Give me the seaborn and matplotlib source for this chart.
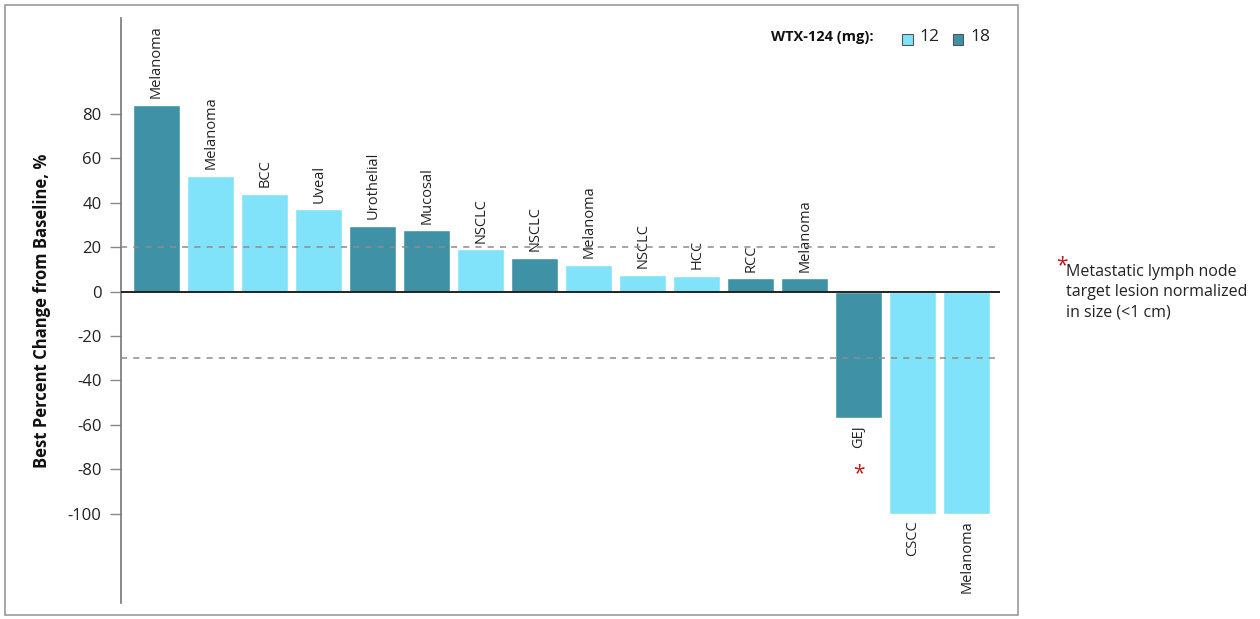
import matplotlib
matplotlib.use("Agg")
import matplotlib.pyplot as plt
from matplotlib.patches import Rectangle
import seaborn as sns
import pandas as pd

# Tumour type per patient, best percent change from baseline, WTX-124 dose (mg)
tumor_types = ["Melanoma", "Melanoma", "BCC", "Uveal", "Urothelial", "Mucosal",
               "NSCLC", "NSCLC", "Melanoma", "NSCLC", "HCC", "RCC", "Melanoma",
               "GEJ", "CSCC", "Melanoma"]
best_change = [84, 52, 44, 37, 29.5, 27.5, 19, 15, 12, 7.5, 7, 6, 6, -57, -100, -100]
dose_mg = ["18", "12", "12", "12", "18", "18", "12", "18", "12", "12", "12", "18",
           "18", "18", "12", "12"]
y_ticks = [80, 60, 40, 20, 0, -20, -40, -60, -80, -100]
dose_colors = {"12": "#80E3FA", "18": "#3F92A5"}

df = pd.DataFrame({
    "patient": list(range(len(tumor_types))),
    "tumor": tumor_types,
    "change": best_change,
    "dose": dose_mg,
})

sns.set_theme(style="white")
plt.rcParams["font.family"] = ["Open Sans", "DejaVu Sans"]

fig = plt.figure(figsize=(12.6, 6.19), dpi=100)
ax = fig.add_axes([0.096, 0.026, 0.698, 0.945])

sns.barplot(data=df, x="patient", y="change", hue="dose", palette=dose_colors,
            dodge=False, width=0.87, saturation=1, legend=False, ax=ax,
            order=df["patient"].tolist())

ax.set_xlim(-0.66, 15.62)
ax.set_ylim(-140, 123)

# Reference lines: zero baseline and response thresholds
ax.axhline(0, color="#222222", lw=1.4, zorder=3)
ax.axhline(20, color="#8c8c8c", lw=1.1, ls=(0, (4, 4)), zorder=4)
ax.axhline(-30, color="#8c8c8c", lw=1.1, ls=(0, (4, 4)), zorder=4)

# Tumour type labels rotated along each bar end
for i, (name, val) in enumerate(zip(tumor_types, best_change)):
    if val >= 0:
        ax.text(i, val + 3, name, rotation=90, ha="center", va="bottom",
                fontsize=10.5, color="#222222")
    else:
        ax.text(i, val - 3, name, rotation=90, ha="center", va="top",
                fontsize=10.5, color="#222222")

# Asterisk under the GEJ bar
gej = tumor_types.index("GEJ")
ax.text(gej, -82, "*", ha="center", va="center", fontsize=15, color="#c0191e")

ax.set_yticks(y_ticks)
ax.set_yticklabels([str(t) for t in y_ticks], fontsize=12, color="#222222")
ax.set_xticks([])
ax.set_xlabel("")
ax.set_ylabel("Best Percent Change from Baseline, %", fontsize=12,
              fontweight="bold", color="#111111", labelpad=12)
ax.tick_params(axis="y", which="both", left=True, length=8, width=1,
               color="#888888", pad=6)
for side in ["top", "right", "bottom"]:
    ax.spines[side].set_visible(False)
ax.spines["left"].set_color("#777777")
ax.spines["left"].set_linewidth(1.2)

# Dose legend
fig.text(0.612, 0.940, "WTX-124 (mg):", fontsize=10.5, fontweight="bold",
         color="#111111", va="center")
for x0, lab in [(0.716, "12"), (0.756, "18")]:
    fig.patches.append(Rectangle((x0, 0.928), 0.0085, 0.0175,
                                 transform=fig.transFigure,
                                 facecolor=dose_colors[lab],
                                 edgecolor="#555555", lw=0.8))
    fig.text(x0 + 0.014, 0.940, lab, fontsize=12.5, color="#222222", va="center")

# Footnote for the asterisk
fig.text(0.8385, 0.570, "*", fontsize=15, color="#c0191e", va="center")
fig.text(0.846, 0.574, "Metastatic lymph node\ntarget lesion normalized\nin size (<1 cm)",
         fontsize=11.5, color="#222222", va="top", linespacing=1.35)

# Frame around the plot panel
fig.patches.append(Rectangle((0.004, 0.006), 0.804, 0.986,
                             transform=fig.transFigure, fill=False,
                             edgecolor="#9a9a9a", lw=1.2))

fig.savefig("out.png", dpi=100)
